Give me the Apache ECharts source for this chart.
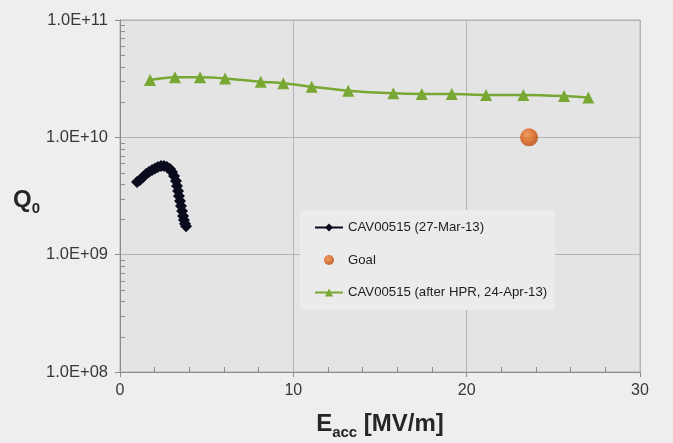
<!DOCTYPE html>
<html>
<head>
<meta charset="utf-8">
<script src="https://cdn.jsdelivr.net/npm/echarts@6/dist/echarts.min.js"></script>
<style>
  html, body { margin: 0; padding: 0; background: #eeeeee; }
  #chart { width: 673px; height: 443px; }
</style>
</head>
<body>
<div id="chart"></div>
<script>
// Q0 vs accelerating gradient, cavity CAV00515
const seriesNames = ['CAV00515 (27-Mar-13)', 'Goal', 'CAV00515 (after HPR, 24-Apr-13)'];

// 27-Mar-13 test [Eacc MV/m, Q0]
const marchEacc = [0.98, 1.15, 1.33, 1.50, 1.67, 1.85, 2.02, 2.19, 2.37, 2.54, 2.71, 2.89, 3.00, 3.12, 3.23, 3.29, 3.35, 3.40, 3.46, 3.52, 3.58, 3.64, 3.69, 3.75, 3.81];
const marchQ0 = [4.16e9, 4.33e9, 4.59e9, 4.87e9, 5.06e9, 5.27e9, 5.43e9, 5.58e9, 5.70e9, 5.70e9, 5.58e9, 5.37e9, 5.06e9, 4.68e9, 4.24e9, 3.85e9, 3.49e9, 3.16e9, 2.87e9, 2.60e9, 2.36e9, 2.14e9, 1.97e9, 1.83e9, 1.75e9];

// Performance goal
const goalEacc = [23.6];
const goalQ0 = [1.0e10];

// 24-Apr-13 test after high pressure rinse
const aprilEacc = [1.73, 3.17, 4.62, 6.06, 8.12, 9.42, 11.06, 13.17, 15.77, 17.41, 19.14, 21.12, 23.27, 25.62, 27.02];
const aprilQ0 = [3.08e10, 3.25e10, 3.25e10, 3.18e10, 2.98e10, 2.89e10, 2.70e10, 2.50e10, 2.37e10, 2.34e10, 2.34e10, 2.30e10, 2.30e10, 2.25e10, 2.18e10];

// Log-axis minor tick values (2..9 in each decade)
const minorTickValues = [];
for (let e = 8; e < 11; e++) {
  for (let m = 2; m <= 9; m++) minorTickValues.push(m * Math.pow(10, e));
}

const zip = (xs, ys) => xs.map((x, i) => [x, ys[i]]);

const axisGray = '#8c8c8c';
const gridGray = '#b4b4b4';
const font = 'Liberation Sans, Arial, sans-serif';

const chart = echarts.init(document.getElementById('chart'), null, { renderer: 'canvas' });

chart.setOption({
  backgroundColor: '#eeeeee',
  animation: false,
  textStyle: { fontFamily: font },
  grid: {
    left: 120, top: 20, right: 33, bottom: 71,
    outerBoundsMode: 'none',
    containLabel: false,
    show: true,
    backgroundColor: '#e4e4e4',
    borderColor: '#b0b0b0',
    borderWidth: 1
  },
  legend: {
    orient: 'vertical',
    left: 300, top: 210,
    padding: [11, 8, 11, 14],
    itemGap: 19.5,
    itemWidth: 28,
    itemHeight: 10,
    backgroundColor: '#ebebeb',
    textStyle: { fontFamily: font, fontSize: 13.2, color: '#1e1e1e' },
    data: seriesNames
  },
  xAxis: {
    type: 'value',
    min: 0, max: 30, interval: 10,
    axisLine: { show: true, lineStyle: { color: axisGray, width: 1 } },
    axisTick: { show: true, length: 5, lineStyle: { color: axisGray } },
    minorTick: { show: true, splitNumber: 5, length: -5, lineStyle: { color: axisGray } },
    splitLine: { show: true, lineStyle: { color: gridGray, width: 1 } },
    axisLabel: { fontFamily: font, fontSize: 16, color: '#383838', margin: 11 },
    name: '{e|E}{s|acc}{e| [MV/m]}',
    nameLocation: 'middle',
    nameGap: 40,
    nameTextStyle: {
      rich: {
        e: { fontFamily: font, fontSize: 24, fontWeight: 'bold', color: '#262626', lineHeight: 28, verticalAlign: 'top' },
        s: { fontFamily: font, fontSize: 15, fontWeight: 'bold', color: '#262626', lineHeight: 20, verticalAlign: 'bottom' }
      }
    }
  },
  yAxis: {
    type: 'log',
    logBase: 10,
    min: 1e8, max: 1e11,
    axisLine: { show: true, lineStyle: { color: axisGray, width: 1 } },
    axisTick: { show: true, length: 5, lineStyle: { color: axisGray } },
    splitLine: { show: true, lineStyle: { color: gridGray, width: 1 } },
    axisLabel: {
      fontFamily: font, fontSize: 16.5, color: '#383838', margin: 12,
      formatter: function (v) {
        const e = Math.round(Math.log10(v));
        return '1.0E+' + (e < 10 ? '0' : '') + e;
      }
    },
    name: '{q|Q}{s|0}',
    nameLocation: 'middle',
    nameRotate: 0,
    nameGap: 80,
    nameTextStyle: {
      padding: [12, 0, 0, 0],
      rich: {
        q: { fontFamily: font, fontSize: 24, fontWeight: 'bold', color: '#262626', lineHeight: 28, verticalAlign: 'top' },
        s: { fontFamily: font, fontSize: 15, fontWeight: 'bold', color: '#262626', lineHeight: 20, verticalAlign: 'bottom' }
      }
    }
  },
  series: [
    {
      name: seriesNames[0],
      type: 'line',
      data: zip(marchEacc, marchQ0),
      symbol: 'diamond',
      symbolSize: 12,
      itemStyle: { color: '#0b0b1e' },
      lineStyle: { color: '#0b0b1e', width: 2 },
      z: 4
    },
    {
      name: seriesNames[1],
      type: 'scatter',
      data: zip(goalEacc, goalQ0),
      symbol: 'circle',
      symbolSize: 18,
      itemStyle: {
        color: {
          type: 'radial', x: 0.4, y: 0.35, r: 0.7,
          colorStops: [
            { offset: 0, color: '#f08c42' },
            { offset: 0.55, color: '#da5c12' },
            { offset: 1, color: '#ad470b' }
          ]
        }
      },
      z: 4
    },
    {
      name: seriesNames[2],
      type: 'line',
      data: zip(aprilEacc, aprilQ0),
      smooth: 0.3,
      symbol: 'triangle',
      symbolSize: 12,
      itemStyle: { color: '#79a733' },
      lineStyle: { color: '#79a733', width: 2.5 },
      z: 4
    },
    {
      // inward minor ticks on the log axis
      name: 'minorTicks',
      type: 'custom',
      silent: true,
      clip: false,
      z: 3,
      data: minorTickValues.map(v => [0, v]),
      renderItem: function (params, api) {
        const p = api.coord([api.value(0), api.value(1)]);
        const y = Math.round(p[1]) + 0.5;
        const x = Math.round(p[0]);
        return {
          type: 'line',
          shape: { x1: x, y1: y, x2: x + 5, y2: y },
          style: { stroke: axisGray, lineWidth: 1 }
        };
      }
    }
  ]
});
</script>
</body>
</html>
